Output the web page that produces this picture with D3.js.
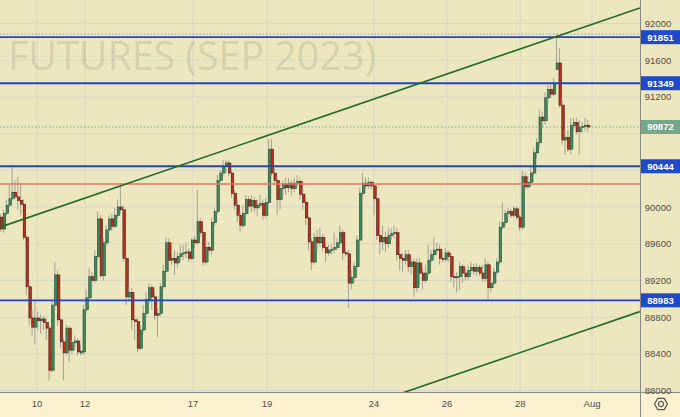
<!DOCTYPE html>
<html>
<head>
<meta charset="utf-8">
<script src="https://cdn.jsdelivr.net/npm/d3@7"></script>
<style>
  body { margin: 0; background: #fcf2cf; }
  svg { display: block; }
</style>
</head>
<body>
<svg id="chart" width="680" height="417"></svg>
<script>
// hourly candles, 10 Jul .. 1 Aug
var opens = [
  89890, 89760, 89930, 90020, 90090, 90160, 90110, 90070, 90030, 89670,
  89130, 88790, 88690, 88790, 88760, 88780, 88740, 88680, 88220, 88930,
  89260, 88770, 88530, 88410, 88680, 88440, 88520, 88540, 88410, 88420,
  88880, 89010, 89240, 89200, 89460, 89870, 89250, 89610, 89750, 89870,
  89790, 89910, 90000, 89970, 89440, 89020, 89070, 88770, 88750, 88460,
  88660, 88840, 88990, 89120, 89020, 88820, 88840, 89130, 89300, 89610,
  89420, 89440, 89390, 89460, 89490, 89500, 89510, 89440, 89640, 89610,
  89840, 89720, 89400, 89560, 89530, 89830, 89950, 90290, 90370, 90440,
  90480, 90370, 90150, 90020, 89910, 89800, 89930, 90080, 90010, 90070,
  89990, 90020, 90040, 89910, 90050, 90630, 90370, 90290, 90080, 90200,
  90250, 90210, 90260, 90200, 90260, 90280, 90140, 90050, 89880, 89620,
  89400, 89670, 89610, 89670, 89560, 89500, 89530, 89540, 89560, 89610,
  89720, 89500, 89490, 89170, 89230, 89350, 89640, 90150, 90260, 90230,
  90270, 90230, 90090, 89690, 89620, 89670, 89600, 89690, 89710, 89720,
  89480, 89440, 89420, 89480, 89350, 89400, 89120, 89390, 89280, 89200,
  89280, 89420, 89480, 89530, 89540, 89440, 89430, 89500, 89460, 89240,
  89230, 89240, 89350, 89280, 89240, 89310, 89340, 89300, 89340, 89280,
  89220, 89370, 89120, 89170, 89290, 89400, 89780, 89830, 89930, 89950,
  89910, 89980, 89890, 89780, 90330, 90220, 90270, 90370, 90590, 90700,
  90980, 90940, 91190, 91280, 91230, 91500, 91570, 91110, 90730, 90760,
  90630, 90890, 90920, 90820, 90870, 90880, 90890
];
var highs = [
  89920, 89970, 90080, 90240, 90460, 90290, 90330, 90260, 90080, 89690,
  89160, 88880, 88990, 88860, 88830, 88810, 88790, 88710, 88990, 89400,
  89310, 88790, 88570, 88720, 88700, 88550, 88600, 88570, 88500, 88930,
  89100, 89340, 89290, 89530, 89950, 89910, 89660, 89800, 89910, 89930,
  89990, 90080, 90260, 90020, 89480, 89150, 89120, 88810, 88790, 88710,
  88930, 89070, 89170, 89150, 89060, 88900, 89170, 89370, 89670, 89660,
  89510, 89530, 89510, 89590, 89590, 89610, 89550, 89660, 89680, 90190,
  89880, 89750, 89640, 89620, 89880, 89990, 90350, 90400, 90510, 90510,
  90510, 90400, 90190, 90080, 89950, 90020, 90130, 90120, 90130, 90110,
  90080, 90130, 90080, 90100, 90740, 90740, 90430, 90340, 90240, 90290,
  90320, 90320, 90290, 90320, 90350, 90320, 90210, 90100, 89910, 89660,
  89720, 89750, 89770, 89710, 89610, 89590, 89590, 89720, 89660, 89800,
  89750, 89550, 89530, 89310, 89400, 89690, 90210, 90370, 90320, 90320,
  90290, 90250, 90120, 89750, 89800, 89730, 89770, 89770, 89800, 89770,
  89530, 89500, 89530, 89530, 89440, 89440, 89440, 89440, 89340, 89370,
  89590, 89530, 89670, 89610, 89590, 89510, 89550, 89530, 89500, 89310,
  89290, 89400, 89380, 89340, 89370, 89400, 89380, 89390, 89370, 89370,
  89440, 89400, 89200, 89340, 89440, 89840, 90050, 89970, 89990, 89980,
  90010, 90010, 89920, 90400, 90380, 90340, 90440, 90640, 90750, 91060,
  91040, 91250, 91330, 91330, 91410, 91880, 91730, 91170, 90840, 90840,
  90970, 90970, 90970, 90950, 90930, 90970, 90950
];
var lows = [
  89730, 89720, 89910, 90000, 90070, 90090, 89970, 89910, 89640, 89040,
  88710, 88590, 88500, 88660, 88620, 88660, 88550, 88110, 88200, 88880,
  88710, 88460, 88110, 88380, 88310, 88390, 88460, 88380, 88380, 88390,
  88840, 88990, 89100, 89170, 89420, 89230, 89200, 89570, 89720, 89750,
  89770, 89880, 89930, 89400, 88930, 88990, 88660, 88550, 88420, 88440,
  88630, 88790, 88950, 88880, 88770, 88580, 88810, 89100, 89270, 89390,
  89370, 89260, 89340, 89400, 89420, 89440, 89400, 89420, 89550, 89590,
  89680, 89360, 89370, 89480, 89480, 89790, 89920, 90260, 90340, 90380,
  90340, 90100, 89970, 89840, 89730, 89770, 89900, 89970, 89950, 89950,
  89900, 89990, 89860, 89880, 90030, 90340, 90240, 89910, 89970, 90130,
  90130, 90160, 90130, 90160, 90230, 90080, 89970, 89800, 89530, 89310,
  89370, 89530, 89570, 89510, 89400, 89470, 89480, 89500, 89530, 89560,
  89420, 89460, 88900, 89100, 89180, 89310, 89620, 90120, 90190, 90200,
  90190, 89910, 89640, 89480, 89530, 89510, 89550, 89640, 89660, 89420,
  89310, 89290, 89370, 89290, 89260, 89020, 89070, 89150, 89100, 89170,
  89250, 89390, 89440, 89480, 89370, 89400, 89400, 89400, 89180, 89120,
  89070, 89100, 89180, 89200, 89200, 89270, 89260, 89250, 89250, 89180,
  89180, 88990, 89070, 89140, 89260, 89370, 89750, 89790, 89890, 89880,
  89880, 89860, 89740, 89750, 90190, 90190, 90240, 90340, 90530, 90640,
  90880, 90900, 91130, 91190, 91210, 91490, 91080, 90680, 90570, 90600,
  90570, 90840, 90790, 90570, 90810, 90830, 90820
];
var closes = [
  89760, 89930, 90020, 90090, 90160, 90110, 90070, 90030, 89670, 89130,
  88790, 88690, 88790, 88760, 88780, 88740, 88680, 88220, 88930, 89260,
  88770, 88530, 88410, 88680, 88440, 88520, 88540, 88420, 88430, 88880,
  89010, 89240, 89200, 89460, 89870, 89250, 89610, 89750, 89870, 89790,
  89910, 90000, 89970, 89440, 89020, 89070, 88770, 88750, 88460, 88660,
  88840, 88990, 89120, 89020, 88820, 88840, 89130, 89300, 89610, 89420,
  89440, 89390, 89460, 89490, 89500, 89510, 89440, 89640, 89610, 89840,
  89720, 89400, 89560, 89530, 89830, 89950, 90290, 90370, 90440, 90480,
  90370, 90150, 90020, 89910, 89800, 89930, 90080, 90010, 90070, 89990,
  90020, 90040, 89910, 90050, 90630, 90370, 90290, 90080, 90200, 90250,
  90210, 90260, 90200, 90260, 90280, 90140, 90050, 89880, 89620, 89400,
  89670, 89610, 89670, 89560, 89500, 89530, 89540, 89560, 89610, 89720,
  89500, 89490, 89170, 89230, 89350, 89640, 90150, 90260, 90230, 90270,
  90230, 90090, 89690, 89620, 89670, 89600, 89690, 89710, 89720, 89480,
  89440, 89420, 89480, 89350, 89400, 89120, 89390, 89280, 89200, 89280,
  89420, 89480, 89530, 89540, 89440, 89430, 89500, 89460, 89240, 89230,
  89240, 89350, 89280, 89240, 89310, 89340, 89300, 89340, 89280, 89220,
  89370, 89120, 89170, 89290, 89400, 89780, 89830, 89930, 89950, 89910,
  89980, 89890, 89780, 90330, 90220, 90270, 90370, 90590, 90700, 90980,
  90940, 91190, 91280, 91230, 91350, 91570, 91110, 90730, 90760, 90630,
  90890, 90920, 90820, 90870, 90880, 90890, 90872
];

var dayLabels = ["10", "12", "17", "19", "24", "26", "28", "Aug"];
var dayIndex = [12.5, 29.3, 67.2, 93.2, 130.7, 156.3, 182, 207.2];
var priceTicks = [88000, 88400, 88800, 89200, 89600, 90000, 90400, 90800, 91200, 91600, 92000];
var levels = [91851, 91349, 90444, 88983];
var redLevel = 90250;
var lastPrice = 90872;
var upperTrend = [[-0.5, 89780], [224, 92170]];
var lowerTrend = [[130, 87860], [224, 88860]];

var width = 680, height = 417, plotW = 640, plotH = 392;
var font = "'Liberation Sans', Arial, sans-serif";

var x = d3.scaleLinear().domain([0, closes.length - 1]).range([1.5, 588.6]);
var y = d3.scaleLinear().domain([88000, 92000]).range([390.5, 23.5]);

var svg = d3.select("#chart");

svg.append("defs").append("clipPath").attr("id", "plot")
  .append("rect").attr("width", plotW).attr("height", plotH);

svg.append("rect").attr("width", width).attr("height", height).attr("fill", "#fcf2cf");
svg.append("rect").attr("width", width).attr("height", plotH).attr("fill", "#ede7bf");

var plot = svg.append("g").attr("clip-path", "url(#plot)");

// grid
plot.selectAll(".hgrid").data(priceTicks).enter().append("line")
  .attr("x1", 0).attr("x2", plotW)
  .attr("y1", function (d) { return y(d); }).attr("y2", function (d) { return y(d); })
  .attr("stroke", "#d7d6c6").attr("stroke-width", 1);
plot.selectAll(".vgrid").data(dayIndex).enter().append("line")
  .attr("x1", function (d) { return x(d); }).attr("x2", function (d) { return x(d); })
  .attr("y1", 0).attr("y2", plotH)
  .attr("stroke", "#d7d6c6").attr("stroke-width", 1);

// watermark
plot.append("text")
  .attr("x", 8).attr("y", 70)
  .attr("textLength", 368).attr("lengthAdjust", "spacingAndGlyphs")
  .style("font-family", "'Open Sans', sans-serif").style("font-size", "41px")
  .attr("fill", "#8c8770").attr("fill-opacity", 0.24)
  .text("FUTURES (SEP 2023)");

// dotted lines: range high and last price
plot.append("line")
  .attr("x1", 0).attr("x2", plotW)
  .attr("y1", y(d3.max(highs)) - 0.5).attr("y2", y(d3.max(highs)) - 0.5)
  .attr("stroke", "#9a9a90").attr("stroke-dasharray", "1.5,2");
plot.append("line")
  .attr("x1", 0).attr("x2", plotW)
  .attr("y1", y(lastPrice)).attr("y2", y(lastPrice))
  .attr("stroke", "#7aa88a").attr("stroke-dasharray", "1.5,2");

// candles
var idx = d3.range(closes.length);
var candle = plot.selectAll(".candle").data(idx).enter().append("g");
candle.append("line")
  .attr("x1", function (i) { return x(i) - 0.8; }).attr("x2", function (i) { return x(i) - 0.8; })
  .attr("y1", function (i) { return y(highs[i]); }).attr("y2", function (i) { return y(lows[i]); })
  .attr("stroke", "#a2a195").attr("stroke-width", 1);
candle.append("rect")
  .attr("x", function (i) { return x(i) - 1.1; })
  .attr("width", 2.5)
  .attr("y", function (i) { return y(Math.max(opens[i], closes[i])); })
  .attr("height", function (i) { return Math.max(1, Math.abs(y(opens[i]) - y(closes[i]))); })
  .attr("fill", function (i) { return closes[i] >= opens[i] ? "#3f8b5e" : "#b5321f"; })
  .attr("stroke", function (i) { return closes[i] >= opens[i] ? "#234f36" : "#5c1a12"; })
  .attr("stroke-width", 0.6);

// level lines
plot.append("line")
  .attr("x1", 0).attr("x2", plotW)
  .attr("y1", y(redLevel)).attr("y2", y(redLevel))
  .attr("stroke", "#e0785f").attr("stroke-width", 1.6);
plot.selectAll(".level").data(levels).enter().append("line")
  .attr("x1", 0).attr("x2", plotW)
  .attr("y1", function (d) { return y(d); }).attr("y2", function (d) { return y(d); })
  .attr("stroke", "#1f45c6").attr("stroke-width", 1.8);

// trend lines
[upperTrend, lowerTrend].forEach(function (t) {
  plot.append("line")
    .attr("x1", x(t[0][0])).attr("y1", y(t[0][1]))
    .attr("x2", x(t[1][0])).attr("y2", y(t[1][1]))
    .attr("stroke", "#1f6b24").attr("stroke-width", 1.6);
});

// axes frame
svg.append("line").attr("x1", plotW + 0.5).attr("x2", plotW + 0.5).attr("y1", 0).attr("y2", height)
  .attr("stroke", "#8a8a82").attr("stroke-width", 1);
svg.append("line").attr("x1", 0).attr("x2", width).attr("y1", plotH + 0.5).attr("y2", plotH + 0.5)
  .attr("stroke", "#8a8a82").attr("stroke-width", 1);

// right price labels (those under a price tag are covered, so skipped)
var tagged = levels.concat([lastPrice]);
var visibleTicks = priceTicks.filter(function (d) {
  return tagged.every(function (t) { return Math.abs(y(t) - y(d)) > 10; });
});
svg.selectAll(".ptick").data(visibleTicks).enter().append("text")
  .attr("x", 658).attr("y", function (d) { return y(d) + 3.5; })
  .attr("text-anchor", "middle")
  .style("font-family", font).style("font-size", "9.5px")
  .attr("fill", "#4d4d4d")
  .text(function (d) { return d; });

// bottom date labels
svg.selectAll(".dtick").data(dayIndex).enter().append("text")
  .attr("x", function (d) { return x(d); }).attr("y", 407)
  .attr("text-anchor", "middle")
  .style("font-family", font).style("font-size", "9.5px")
  .attr("fill", "#4d4d4d")
  .text(function (d, i) { return dayLabels[i]; });

// price tags
function tag(value, color) {
  svg.append("rect")
    .attr("x", 641).attr("y", y(value) - 7).attr("width", 39).attr("height", 14)
    .attr("fill", color);
  svg.append("text")
    .attr("x", 660.5).attr("y", y(value) + 3.5)
    .attr("text-anchor", "middle")
    .style("font-family", font).style("font-size", "9.5px").style("font-weight", "bold")
    .attr("fill", "#ffffff")
    .text(value);
}
levels.forEach(function (d) { tag(d, "#1f4bca"); });
tag(lastPrice, "#73a98a");

// settings icon
var gear = svg.append("g").attr("transform", "translate(661,404)");
gear.append("path")
  .attr("d", d3.range(6).map(function (k) {
    var a = Math.PI / 3 * k;
    return (k ? "L" : "M") + (6.5 * Math.cos(a)).toFixed(2) + "," + (6.5 * Math.sin(a)).toFixed(2);
  }).join("") + "Z")
  .attr("fill", "none").attr("stroke", "#555").attr("stroke-width", 1.2);
gear.append("circle").attr("r", 2.6)
  .attr("fill", "none").attr("stroke", "#555").attr("stroke-width", 1.2);
</script>
</body>
</html>
